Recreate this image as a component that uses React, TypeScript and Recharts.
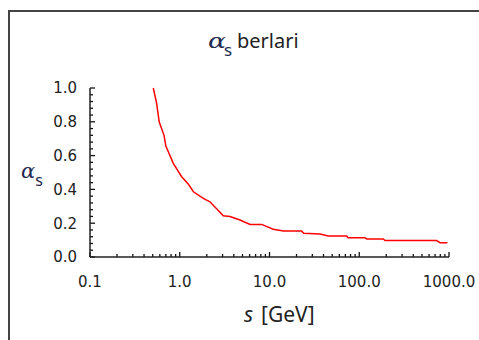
import { Line, LineChart, ReferenceLine, XAxis, YAxis } from "recharts";

// s [GeV] against the running coupling
const sValues = [
  0.507, 0.553, 0.59, 0.668, 0.7, 0.847, 1.05, 1.25, 1.42, 1.83, 2.17, 3.06,
  3.63, 4.69, 6.07, 8.18, 11.0, 14.3, 22.8, 24, 36.5, 45, 72.5, 75, 116, 121,
  185, 194, 729, 794, 960,
];
const alphaValues = [
  1.0, 0.909, 0.8, 0.72, 0.657, 0.554, 0.475, 0.43, 0.386, 0.347, 0.327, 0.244,
  0.239, 0.219, 0.193, 0.193, 0.164, 0.154, 0.154, 0.14, 0.136, 0.124, 0.124,
  0.114, 0.114, 0.107, 0.107, 0.097, 0.097, 0.085, 0.085,
];

const xTicks = [0.1, 1, 10, 100, 1000];
const xMinorTicks = [
  0.2, 0.3, 0.4, 0.5, 0.6, 0.7, 0.8, 0.9, 2, 3, 4, 5, 6, 7, 8, 9, 20, 30, 40,
  50, 60, 70, 80, 90, 200, 300, 400, 500, 600, 700, 800, 900,
];
const yTicks = [0, 0.2, 0.4, 0.6, 0.8, 1.0];
const yMinorTicks = [
  0.04, 0.08, 0.12, 0.16, 0.24, 0.28, 0.32, 0.36, 0.44, 0.48, 0.52, 0.56, 0.64,
  0.68, 0.72, 0.76, 0.84, 0.88, 0.92, 0.96,
];

const data = sValues.map((s, i) => ({ s, alpha: alphaValues[i] }));

const ink = "#222";
const navy = "#1f2a52";
const tickFont = { fontFamily: "DejaVu Sans", fontSize: 15, fill: "#222" };

const fmtX = (v: number) => (v < 1 ? String(v) : v.toFixed(1));

// short inward tick marks, drawn as stubs of reference lines
const xStub = (len: number) => (p: any) => {
  const bottom = Math.max(p.y1, p.y2);
  return <line x1={p.x1} x2={p.x1} y1={bottom} y2={bottom - len} stroke="#111" strokeWidth={1.3} />;
};
const yStub = (len: number) => (p: any) => {
  const left = Math.min(p.x1, p.x2);
  return <line x1={left} x2={left + len} y1={p.y1} y2={p.y1} stroke="#111" strokeWidth={1.3} />;
};

export default function App() {
  return (
    <div
      style={{
        position: "absolute",
        left: 0,
        top: 0,
        width: 479,
        height: 340,
        overflow: "hidden",
        background: "#fff",
      }}
    >
      <div
        style={{
          position: "absolute",
          left: 8,
          top: 10,
          width: 500,
          height: 360,
          border: "2px solid #444",
        }}
      />
      <div style={{ position: "absolute", left: 0, top: 0 }}>
        <LineChart
          width={479}
          height={340}
          data={data}
          margin={{ top: 88, right: 30, left: 0, bottom: 53 }}
        >
          <XAxis
            dataKey="s"
            type="number"
            scale="log"
            domain={[0.1, 1000]}
            allowDataOverflow
            ticks={xTicks}
            interval={0}
            tickFormatter={fmtX}
            tickLine={false}
            tickSize={0}
            tickMargin={19}
            height={30}
            axisLine={{ stroke: ink, strokeWidth: 1.5 }}
            tick={tickFont}
          />
          <YAxis
            type="number"
            domain={[0, 1]}
            ticks={yTicks}
            interval={0}
            tickFormatter={(v: number) => v.toFixed(1)}
            tickLine={false}
            tickSize={0}
            tickMargin={13}
            width={90}
            axisLine={{ stroke: ink, strokeWidth: 1.5 }}
            tick={tickFont}
          />
          {xTicks.map((v) => (
            <ReferenceLine key={`xm${v}`} x={v} shape={xStub(5)} />
          ))}
          {xMinorTicks.map((v) => (
            <ReferenceLine key={`xn${v}`} x={v} shape={xStub(3)} />
          ))}
          {yTicks.map((v) => (
            <ReferenceLine key={`ym${v}`} y={v} shape={yStub(5)} />
          ))}
          {yMinorTicks.map((v) => (
            <ReferenceLine key={`yn${v}`} y={v} shape={yStub(3)} />
          ))}
          <Line
            dataKey="alpha"
            type="linear"
            stroke="#ff0000"
            strokeWidth={1.5}
            dot={false}
            isAnimationActive={false}
          />
        </LineChart>
      </div>
      <svg
        width={479}
        height={340}
        style={{ position: "absolute", left: 0, top: 0, pointerEvents: "none" }}
      >
        <text x={208} y={48} fill={ink} fontFamily="Noto Sans">
          <tspan
            fontFamily="DejaVu Serif"
            fontStyle="italic"
            fontSize={21}
            fill={navy}
            textLength={18}
            lengthAdjust="spacingAndGlyphs"
          >
            α
          </tspan>
          <tspan x={224} dy={8} fontSize={17} fill={navy}>
            s
          </tspan>
          <tspan x={237} dy={-8} fontSize={20}>
            berlari
          </tspan>
        </text>
        <text x={21} y={178} fill={navy} fontFamily="Noto Sans">
          <tspan fontFamily="DejaVu Serif" fontStyle="italic" fontSize={21}>
            α
          </tspan>
          <tspan fontSize={16} dy={8}>
            s
          </tspan>
        </text>
        <text x={244} y={322} fill={ink} fontFamily="Noto Sans" fontSize={21}>
          <tspan fontStyle="italic">s</tspan>
          <tspan x={261}>[GeV]</tspan>
        </text>
      </svg>
    </div>
  );
}
